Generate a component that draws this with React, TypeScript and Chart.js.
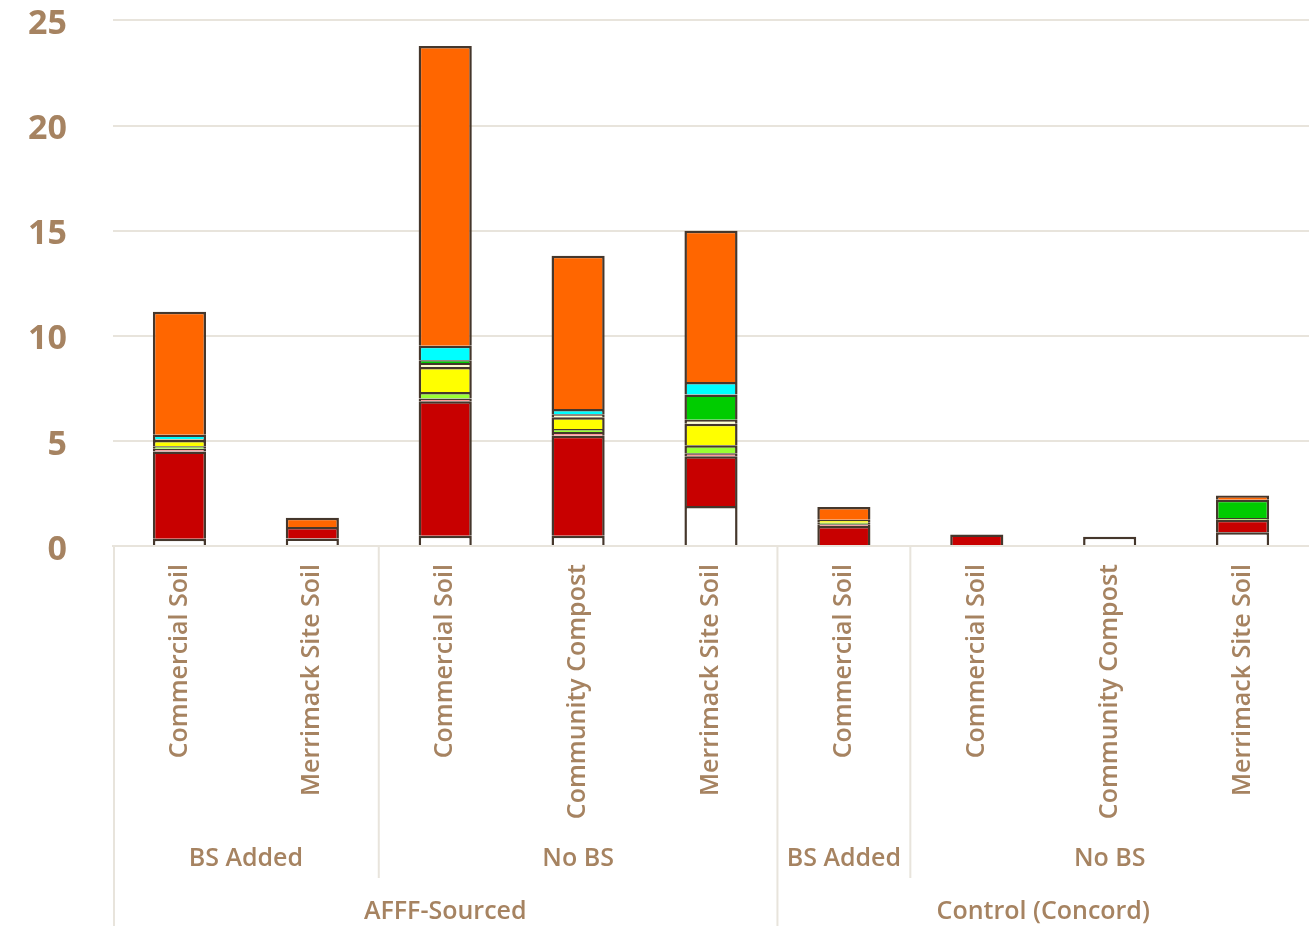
import React, { useEffect, useRef } from "react";
import { Chart, registerables } from "chart.js";

Chart.register(...registerables);

// Categories, inner grouping (treatment) and outer grouping (source)
const categories = [
  "Commercial Soil",
  "Merrimack Site Soil",
  "Commercial Soil",
  "Community Compost",
  "Merrimack Site Soil",
  "Commercial Soil",
  "Commercial Soil",
  "Community Compost",
  "Merrimack Site Soil",
];
const treatment = ["BS Added", "BS Added", "No BS", "No BS", "No BS", "BS Added", "No BS", "No BS", "No BS"];
const source = [
  "AFFF-Sourced",
  "AFFF-Sourced",
  "AFFF-Sourced",
  "AFFF-Sourced",
  "AFFF-Sourced",
  "Control (Concord)",
  "Control (Concord)",
  "Control (Concord)",
  "Control (Concord)",
];

// Stacked components, bottom to top
const whiteVals = [0.35, 0.36, 0.49, 0.49, 1.9, null, null, 0.44, 0.65];
const redVals = [4.15, 0.54, 6.39, 4.75, 2.37, 0.95, 0.55, null, 0.6];
const pinkVals = [0.12, null, 0.14, 0.18, 0.14, 0.08, null, null, null];
const limeVals = [0.12, null, 0.3, 0.15, 0.38, 0.08, null, null, 0.08];
const yellowVals = [0.3, null, 1.19, 0.55, 1.02, 0.14, null, null, null];
const creamVals = [0.05, null, 0.2, 0.15, 0.19, null, null, null, null];
const greenVals = [null, null, 0.12, null, 1.21, null, null, null, 0.87];
const cyanVals = [0.2, null, 0.7, 0.25, 0.59, null, null, null, null];
const orangeVals = [5.85, 0.44, 14.25, 7.28, 7.2, 0.6, null, null, 0.2];

const yTicks = [0, 5, 10, 15, 20, 25];

const TEXT = "#A68361";
const GRID = "#E8E4DC";
const EDGE = "#45372C";
const FONT = "'Open Sans', Lato, sans-serif";

const series = [
  { name: "white", data: whiteVals, color: "#FFFFFF" },
  { name: "red", data: redVals, color: "#C80000" },
  { name: "pink", data: pinkVals, color: "#FF9999" },
  { name: "lime", data: limeVals, color: "#99FF33" },
  { name: "yellow", data: yellowVals, color: "#FFFF00" },
  { name: "cream", data: creamVals, color: "#FFFFCC" },
  { name: "green", data: greenVals, color: "#00CC00" },
  { name: "cyan", data: cyanVals, color: "#00FFFF" },
  { name: "orange", data: orangeVals, color: "#FF6600" },
];

function spans(keys: string[], parent?: string[]) {
  const out: { label: string; start: number; end: number }[] = [];
  keys.forEach((k, i) => {
    const last = out[out.length - 1];
    const same = last && last.label === k && (!parent || parent[i] === parent[last.start]);
    if (same) last.end = i;
    else out.push({ label: k, start: i, end: i });
  });
  return out;
}

const groupAxisPlugin = {
  id: "groupAxis",
  afterDraw(chart: any) {
    const { ctx, chartArea, scales } = chart;
    const x = scales.x;
    const step = x.getPixelForValue(1) - x.getPixelForValue(0);
    const edge = (i: number) => x.getPixelForValue(i) - step / 2;
    const bottom = chart.height;
    ctx.save();
    ctx.strokeStyle = GRID;
    ctx.lineWidth = 2;
    ctx.fillStyle = TEXT;
    ctx.font = `600 25px ${FONT}`;
    ctx.textAlign = "center";
    ctx.textBaseline = "middle";

    const inner = spans(treatment, source);
    const outer = spans(source);
    const outerStarts = new Set(outer.map((g) => g.start));

    inner.forEach((g) => {
      const x0 = edge(g.start);
      if (!outerStarts.has(g.start)) {
        ctx.beginPath();
        ctx.moveTo(x0, chartArea.bottom);
        ctx.lineTo(x0, 878);
        ctx.stroke();
      }
      const cx = (edge(g.start) + edge(g.end + 1)) / 2;
      ctx.fillText(g.label, cx, 859);
    });
    outer.forEach((g) => {
      const x0 = Math.max(edge(g.start), chartArea.left + 1);
      ctx.beginPath();
      ctx.moveTo(x0, chartArea.bottom);
      ctx.lineTo(x0, bottom);
      ctx.stroke();
      const cx = (edge(g.start) + edge(g.end + 1)) / 2;
      ctx.fillText(g.label, cx, 912);
    });
    ctx.restore();
  },
};

export default function App() {
  const ref = useRef<HTMLCanvasElement | null>(null);

  useEffect(() => {
    if (!ref.current) return;
    const chart = new Chart(ref.current, {
      type: "bar",
      data: {
        labels: categories,
        datasets: series.map((s) => ({
          label: s.name,
          data: s.data as any,
          backgroundColor: s.color,
          borderColor: EDGE,
          borderWidth: 2.5,
          borderSkipped: "start",
          barPercentage: 0.4,
          categoryPercentage: 1.0,
        })),
      },
      options: {
        animation: false,
        responsive: false,
        devicePixelRatio: 1,
        layout: { padding: { top: 19, right: 0, left: 0, bottom: 0 } },
        plugins: {
          legend: { display: false },
          tooltip: { enabled: false },
        },
        scales: {
          x: {
            stacked: true,
            grid: { display: false, drawTicks: true, tickLength: 18, tickColor: "rgba(0,0,0,0)" },
            border: { display: true, color: GRID, width: 2 },
            ticks: {
              color: TEXT,
              font: { family: FONT, size: 25, weight: "600" },
              minRotation: 90,
              maxRotation: 90,
              autoSkip: false,
              padding: 0,
            },
            afterFit(scale: any) {
              scale.height = 380;
            },
          },
          y: {
            stacked: true,
            min: 0,
            max: 25,
            afterBuildTicks(scale: any) {
              scale.ticks = yTicks.map((v) => ({ value: v }));
            },
            grid: { color: GRID, lineWidth: 2, drawTicks: true, tickLength: 46, tickColor: "rgba(0,0,0,0)" },
            border: { display: false },
            ticks: {
              color: TEXT,
              font: { family: FONT, size: 34, weight: "bold" },
              padding: 0,
              labelOffset: 4,
            },
            afterFit(scale: any) {
              scale.width = 113;
            },
          },
        },
      },
      plugins: [groupAxisPlugin],
    });
    return () => chart.destroy();
  }, []);

  return (
    <div style={{ position: "fixed", left: 0, top: 0, width: 1309, height: 926, background: "#FFFFFF" }}>
      <canvas ref={ref} width={1309} height={926} />
    </div>
  );
}
